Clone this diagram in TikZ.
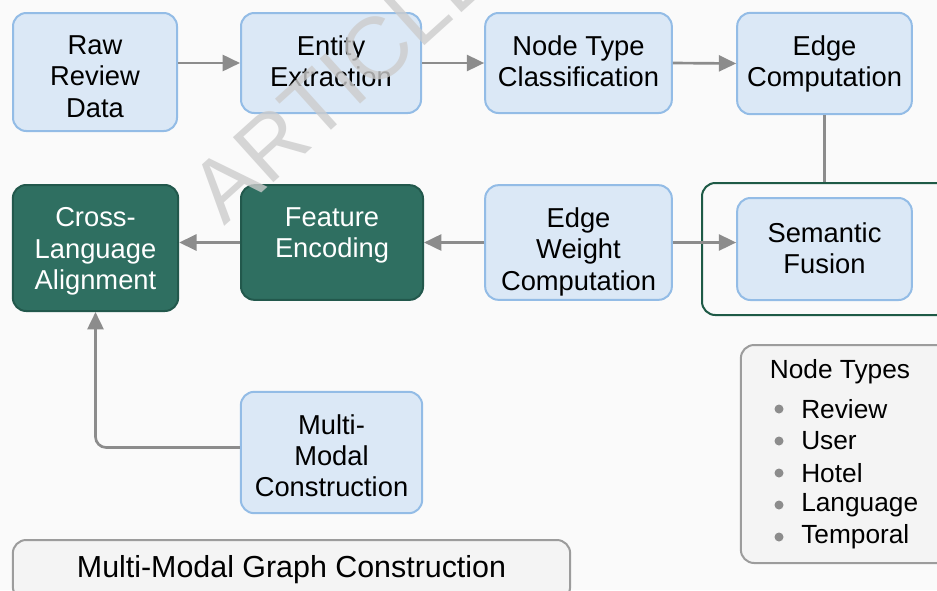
\documentclass[tikz,border=0pt]{standalone}
\usepackage{fontspec}
\setmainfont{Liberation Sans}
\usetikzlibrary{arrows.meta}
\definecolor{pagebg}{HTML}{FAFAFA}
\definecolor{stagefill}{HTML}{DBE8F6}
\definecolor{stageline}{HTML}{93BCE6}
\definecolor{encfill}{HTML}{2F6F61}
\definecolor{encline}{HTML}{22584C}
\definecolor{framegreen}{HTML}{1E5A46}
\definecolor{flowgray}{HTML}{8C8C8C}
\definecolor{panelfill}{HTML}{F4F4F4}
\definecolor{panelline}{HTML}{9C9C9C}
\begin{document}
\begin{tikzpicture}[x=0.75pt,y=-0.75pt,
	stage/.style={draw=stageline,fill=stagefill,line width=1.5pt,rounded corners=10pt,inner sep=0pt},
	encoder/.style={stage,draw=encline,fill=encfill},
	stagetext/.style={anchor=north,align=center,inner sep=0pt,yshift=-17.5pt,
		font=\fontsize{20.5}{23.5}\selectfont},
	flow/.style={draw=flowgray,line width=2pt,-{Triangle[length=13pt,width=12pt]}},
	panel/.style={draw=panelline,fill=panelfill,line width=1.5pt,rounded corners=10pt}]
	\useasboundingbox[fill=pagebg] (0,0) rectangle (937,590);
	% first row
	\node[stage,minimum width=123pt,minimum height=88.5pt,
		label={[stagetext]north:Raw\\Review\\Data}] (raw) at (95,72) {};
	\node[stage,minimum width=135pt,minimum height=75pt,
		label={[stagetext]north:Entity\\Extraction}] (entity) at (331,63) {};
	\node[stage,minimum width=140pt,minimum height=75pt,
		label={[stagetext]north:Node Type\\Classification}] (ntype) at (578.5,63) {};
	\node[stage,minimum width=131pt,minimum height=76pt,
		label={[stagetext]north:Edge\\Computation}] (edgecomp) at (824.5,63.5) {};
	\draw[flow] (raw.east |- entity.west) -- (entity.west);
	\draw[flow] (entity.east) -- (ntype.west);
	\draw[flow] (ntype.east) -- (edgecomp.west);
	% fusion frame and second row
	\node[draw=framegreen,line width=1.5pt,rounded corners=10pt,minimum width=186pt,minimum height=99pt] (fusionframe) at (826,249) {};
	\draw[flowgray,line width=2pt] (edgecomp.south) -- (edgecomp.south |- fusionframe.north);
	\node[stage,minimum width=131pt,minimum height=76.5pt,
		label={[stagetext,yshift=-1.5pt]north:Semantic\\Fusion}] (fusion) at (824.5,249) {};
	\node[stage,minimum width=140pt,minimum height=86pt,
		label={[stagetext]north:Edge\\Weight\\Computation}] (eweight) at (578.5,242.5) {};
	\node[encoder,minimum width=136.5pt,minimum height=86pt,
		label={[stagetext,text=white]north:Feature\\Encoding}] (encoding) at (332,242.5) {};
	\node[encoder,minimum width=124pt,minimum height=94.5pt,
		label={[stagetext,text=white]north:Cross-\\Language\\Alignment}] (align) at (95.5,248) {};
	\draw[flow] (eweight.east) -- (eweight.east -| fusion.west);
	\draw[flow] (eweight.west) -- (encoding.east);
	\draw[flow] (encoding.west) -- (align.east |- encoding.west);
	% multi-modal branch
	\node[stage,minimum width=136pt,minimum height=91pt,
		label={[stagetext]north:Multi-\\Modal\\Construction}] (multimodal) at (331.5,452.5) {};
	\draw[flow,rounded corners=8pt] (multimodal.west) ++(0,-5) -| (align.south);
	% caption and legend
	\node[panel,minimum width=418pt,minimum height=45pt,font=\fontsize{22.8}{26}\selectfont] (caption) at (291.5,570) {Multi-Modal Graph Construction};
	\node[panel,minimum width=157pt,minimum height=163.5pt] (legend) at (845.5,454) {};
	\node[font=\fontsize{19.7}{23}\selectfont] (legendtitle) at (840,372) {Node Types};
	\foreach \name [count=\i from 0] in {Review,User,Hotel,Language,Temporal}{
		\fill[flowgray] (779,409+32*\i) circle[radius=4.5];
		\node[anchor=west,inner sep=0pt,font=\fontsize{19.7}{23}\selectfont] (item\i) at (801,409+32*\i) {\name};
	}
	% watermark
	\node[rotate=42,text=black!20,text opacity=0.8,font=\fontsize{66}{66}\selectfont] (mark) at (342,80) {ARTICLE};
\end{tikzpicture}
\end{document}
